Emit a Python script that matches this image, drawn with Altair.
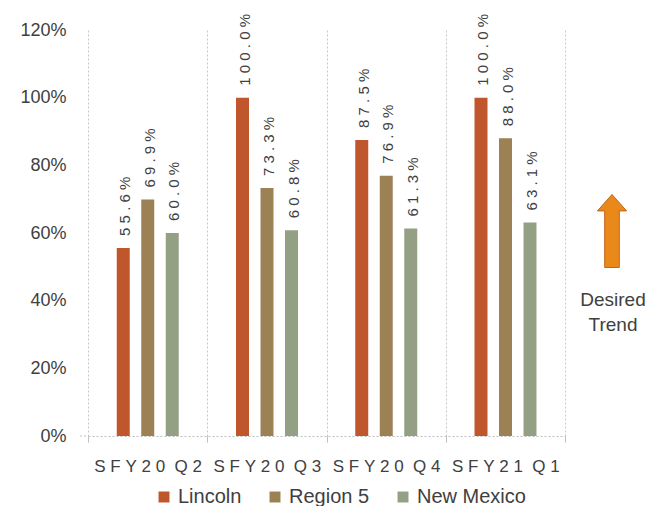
import altair as alt
import pandas as pd

periods = ["SFY20 Q2", "SFY20 Q3", "SFY20 Q4", "SFY21 Q1"]
series = ["Lincoln", "Region 5", "New Mexico"]
lincoln = [0.556, 1.000, 0.875, 1.000]
region5 = [0.699, 0.733, 0.769, 0.880]
new_mexico = [0.600, 0.608, 0.613, 0.631]
colors = ["#C0562B", "#9C8155", "#94A084"]

rows = []
for i, p in enumerate(periods):
    for s, vals in zip(series, [lincoln, region5, new_mexico]):
        rows.append({"period": p, "series": s, "value": vals[i]})
df = pd.DataFrame(rows)

W, H = 477, 406
FONT = "Liberation Sans"
TXT = "#404040"
NB = "\u00a0"

x_enc = alt.X(
    "period:N",
    sort=periods,
    title=None,
    scale=alt.Scale(paddingInner=0, paddingOuter=0),
    axis=alt.Axis(
        labelAngle=0,
        labelExpr="replace(join(split(datum.label, ''), '" + NB + "'), ' ', '')",
        labelFont=FONT,
        labelFontSize=17,
        labelColor=TXT,
        labelPadding=16,
        tickBand="extent",
        grid=True,
        gridColor="#C8C8C8",
        gridDash=[2, 2],
        domainColor="#BFBFBF",
        domainDash=[2, 2],
        tickColor="#BFBFBF",
        tickSize=6,
    ),
)
xoff = alt.XOffset(
    "series:N", sort=series,
    scale=alt.Scale(range=[23, 96.5], paddingInner=0.47, paddingOuter=0.235),
)
y_enc = alt.Y(
    "value:Q",
    title=None,
    scale=alt.Scale(domain=[0, 1.2]),
    axis=alt.Axis(
        values=[0, 0.2, 0.4, 0.6, 0.8, 1.0, 1.2],
        format=".0%",
        labelFont=FONT,
        labelFontSize=18,
        labelColor=TXT,
        labelPadding=22,
        domain=False,
        ticks=False,
        grid=False,
    ),
)

base = alt.Chart(df).encode(x=x_enc, xOffset=xoff, y=y_enc)

bars = base.mark_bar().encode(
    color=alt.Color(
        "series:N",
        sort=series,
        scale=alt.Scale(domain=series, range=colors),
        legend=alt.Legend(
            title=None,
            orient="none",
            legendX=66,
            legendY=457,
            direction="horizontal",
            symbolType="square",
            symbolSize=120,
            symbolStrokeWidth=0,
            labelFont=FONT,
            labelFontSize=20,
            labelColor=TXT,
            labelOffset=4,
            columnPadding=23,
        ),
    )
)

labels = base.transform_calculate(
    lab="join(split(format(datum.value, '.1%'), ''), ' ')"
).mark_text(
    angle=270, align="left", baseline="middle", dx=12, dy=2,
    font=FONT, fontSize=15, color=TXT
).encode(text="lab:N")

one = pd.DataFrame({"a": [0]})
stub = alt.Chart(one).mark_rule(color="#BFBFBF", strokeDash=[2, 2]).encode(
    x=alt.value(-8), x2=alt.value(0), y=alt.value(H)
)

arrow = alt.Chart(one).mark_point(
    shape="M0,-1 L0.4,-0.55 L0.2,-0.55 L0.2,1 L-0.2,1 L-0.2,-0.55 L-0.4,-0.55 Z",
    filled=True, fill="#E8891A", stroke="#C0661A", strokeWidth=1, opacity=1,
).encode(x=alt.value(524), y=alt.value(201), size=alt.value(73 * 73))

trend = alt.Chart(one).mark_text(
    align="center", baseline="top", font=FONT, fontSize=19, color=TXT, lineHeight=25
).encode(x=alt.value(525), y=alt.value(261), text=alt.value(["Desired", "Trend"]))

chart = alt.layer(bars, labels, stub, arrow, trend).properties(
    width=W, height=H,
    autosize=alt.AutoSizeParams(type="none"),
    padding={"left": 80, "top": 22, "right": 90, "bottom": 70},
).configure_view(stroke=None)

chart.save("out.html", embed_options={"renderer": "svg", "actions": False})
